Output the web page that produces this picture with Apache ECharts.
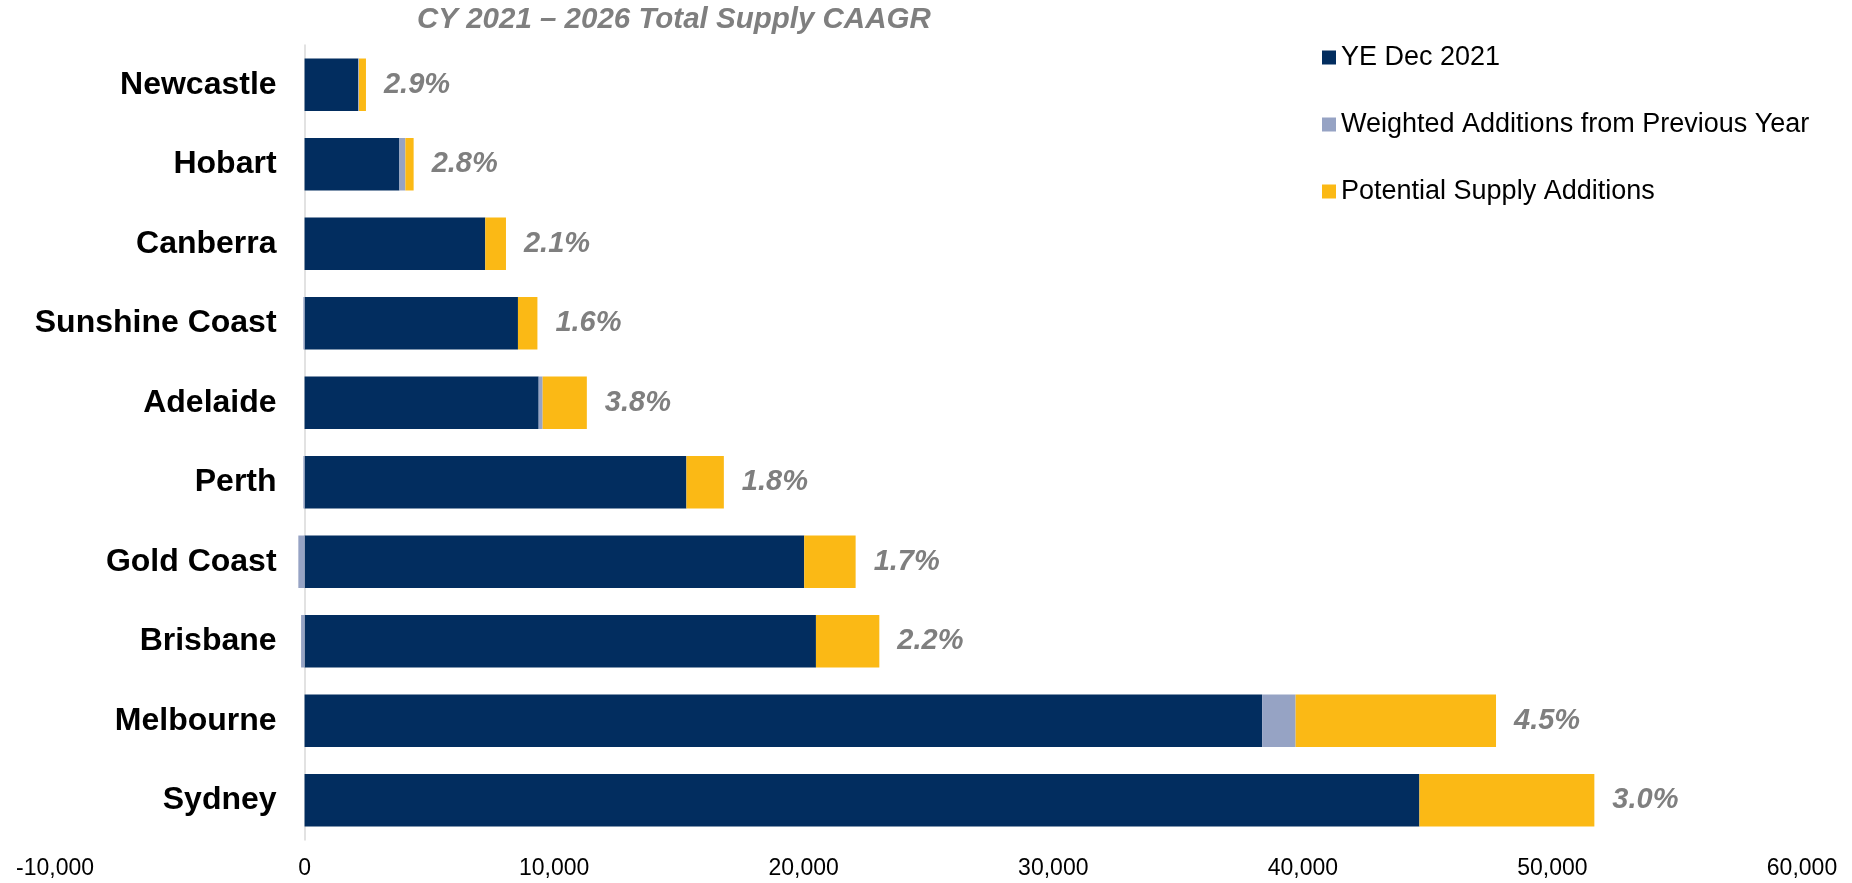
<!DOCTYPE html>
<html>
<head>
<meta charset="utf-8">
<title>CY 2021 – 2026 Total Supply CAAGR</title>
<script src="https://cdn.jsdelivr.net/npm/echarts@6/dist/echarts.min.js"></script>
<style>
  html, body { margin: 0; padding: 0; background: #fff; }
  #chart { width: 1852px; height: 883px; }
</style>
</head>
<body>
<div id="chart"></div>
<script>
// cities, top to bottom
const categories = ['Newcastle', 'Hobart', 'Canberra', 'Sunshine Coast', 'Adelaide', 'Perth', 'Gold Coast', 'Brisbane', 'Melbourne', 'Sydney']
const ye2021 = [2150, 3800, 7240, 8550, 9380, 15300, 20020, 20490, 38370, 44670]
const weighted = [30, 240, 0, -50, 160, -50, -250, -140, 1340, 0]
const potential = [280, 330, 830, 780, 1770, 1500, 2060, 2540, 8030, 7010]
const caagr = ['2.9%', '2.8%', '2.1%', '1.6%', '3.8%', '1.8%', '1.7%', '2.2%', '4.5%', '3.0%']
const xTicks = [-10000, 0, 10000, 20000, 30000, 40000, 50000, 60000]

const font = '"Liberation Sans", Arial, sans-serif'
const gridLeft = 55
const gridRight = 50
const xMin = xTicks[0]
const xMax = xTicks[xTicks.length - 1]
// shift the category axis so it sits on the zero line, labels included
const zeroShift = (1852 - gridLeft - gridRight) * (0 - xMin) / (xMax - xMin)

const chart = echarts.init(document.getElementById('chart'))

chart.setOption({
  animation: false,
  title: {
    text: 'CY 2021 – 2026 Total Supply CAAGR',
    left: 417,
    top: 5,
    padding: 0,
    textStyle: {
      fontFamily: font,
      fontSize: 29.5,
      fontWeight: 'bold',
      fontStyle: 'italic',
      color: '#7f7f7f'
    }
  },
  legend: {
    orient: 'vertical',
    left: 1322,
    top: 44,
    padding: 0,
    itemWidth: 14,
    itemHeight: 14,
    itemGap: 40,
    icon: 'rect',
    textStyle: {
      fontFamily: font,
      fontSize: 27,
      lineHeight: 27,
      color: '#000'
    }
  },
  grid: {
    left: gridLeft,
    right: gridRight,
    top: 45,
    bottom: 43,
    outerBoundsMode: 'none',
    containLabel: false
  },
  xAxis: {
    type: 'value',
    min: xMin,
    max: xMax,
    interval: 10000,
    axisLine: { show: false },
    axisTick: { show: false },
    splitLine: { show: false },
    axisLabel: {
      margin: 17,
      fontFamily: font,
      fontSize: 23,
      color: '#000',
      formatter: v => v.toLocaleString('en-US')
    }
  },
  yAxis: {
    type: 'category',
    inverse: true,
    data: categories,
    offset: -zeroShift,
    axisTick: { show: false },
    axisLine: {
      onZero: false,
      lineStyle: { color: '#d9d9d9', width: 1.5 }
    },
    axisLabel: {
      margin: 28,
      fontFamily: font,
      fontSize: 32,
      fontWeight: 'bold',
      color: '#000'
    }
  },
  series: [{
    name: 'YE Dec 2021',
    type: 'bar',
    stack: 'supply',
    barCategoryGap: '34%',
    itemStyle: { color: '#022d5f' },
    data: ye2021
  }, {
    name: 'Weighted Additions from Previous Year',
    type: 'bar',
    stack: 'supply',
    itemStyle: { color: '#96a3c4' },
    data: weighted
  }, {
    name: 'Potential Supply Additions',
    type: 'bar',
    stack: 'supply',
    itemStyle: { color: '#fbb915' },
    label: {
      show: true,
      position: 'right',
      distance: 18,
      fontFamily: font,
      fontSize: 29,
      fontWeight: 'bold',
      fontStyle: 'italic',
      color: '#7f7f7f',
      formatter: p => caagr[p.dataIndex]
    },
    data: potential
  }]
})
</script>
</body>
</html>
